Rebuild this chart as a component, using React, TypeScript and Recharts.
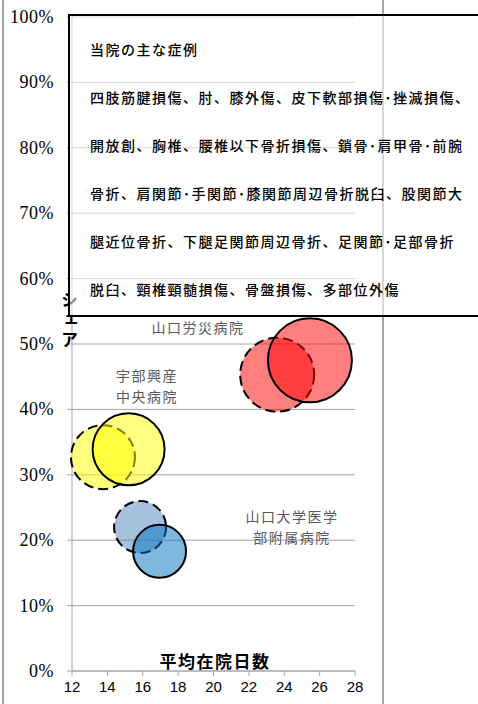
import { ScatterChart, Scatter, XAxis, YAxis, ZAxis, CartesianGrid } from 'recharts'

// 平均在院日数 (x) / シェア (y) / 症例数 (z)
const prevX = [23.6, 13.75, 15.85]
const prevY = [0.453, 0.327, 0.22]
const prevZ = [1369, 1024, 676]
const curX = [25.45, 15.2, 16.95]
const curY = [0.475, 0.339, 0.183]
const curZ = [1764, 1296, 702]
const prevColors = ['#ff0000', '#ffff00', '#4f81bd']
const curColors = ['#ff0000', '#ffff00', '#0070c0']

const xTicks = [12, 14, 16, 18, 20, 22, 24, 26, 28]
const yTicks = [0, 0.1, 0.2, 0.3, 0.4, 0.5, 0.6, 0.7, 0.8, 0.9, 1]

const noteLines = [
  '当院の主な症例',
  '四肢筋腱損傷、肘、膝外傷、皮下軟部損傷･挫滅損傷、',
  '開放創、胸椎、腰椎以下骨折損傷、鎖骨･肩甲骨･前腕',
  '骨折、肩関節･手関節･膝関節周辺骨折脱臼、股関節大',
  '腿近位骨折、下腿足関節周辺骨折、足関節･足部骨折',
  '脱臼、頸椎頸髄損傷、骨盤損傷、多部位外傷',
]

const cjk = '"Noto Sans CJK JP", sans-serif'

const hospitalLabels = [
  { lines: ['山口労災病院'], left: 198, top: 317 },
  { lines: ['宇部興産', '中央病院'], left: 147, top: 365 },
  { lines: ['山口大学医学', '部附属病院'], left: 292, top: 506 },
]

const XTick = (p: any) => (
  <text x={p.x} y={p.y} dy={12} textAnchor="middle" fontSize={15} fill="#000"
    style={{ fontFamily: '"Liberation Sans", Arial, sans-serif' }}>
    {p.payload.value}
  </text>
)

const YTick = (p: any) => (
  <text x={p.x} y={p.y} dy={6} textAnchor="end" fontSize={18} fill="#000" letterSpacing={0.5}
    style={{ fontFamily: '"Liberation Serif", "Times New Roman", serif' }}>
    {`${Math.round(p.payload.value * 100)}%`}
  </text>
)

export default function App() {
  return (
    <div style={{ position: 'absolute', left: 0, top: 0, width: 478, height: 704, overflow: 'hidden', background: '#fff' }}>
      <ScatterChart width={478} height={704} margin={{ top: 17, right: 123, bottom: 0, left: 0 }}>
        <CartesianGrid vertical={false} stroke="#a6a6a6" />
        <XAxis
          type="number" dataKey="x" domain={[12, 28]} ticks={xTicks} height={33}
          axisLine={{ stroke: '#a6a6a6' }} tickLine={{ stroke: '#a6a6a6' }} tickSize={5} tickMargin={4}
          tick={XTick}
        />
        <YAxis
          type="number" dataKey="y" domain={[0, 1]} ticks={yTicks} width={72}
          axisLine={{ stroke: '#a6a6a6' }} tickLine={{ stroke: '#a6a6a6' }} tickSize={5} tickMargin={13}
          tick={YTick}
        />
        <ZAxis type="number" dataKey="z" domain={[0, 1764]} range={[0, Math.PI * 42 * 42]} />
        {prevX.map((x, i) => (
          <Scatter
            key={'p' + i}
            data={[{ x, y: prevY[i], z: prevZ[i] }]}
            shape="circle"
            fill={prevColors[i]} fillOpacity={0.5}
            stroke="#000" strokeWidth={2} strokeDasharray="10 5"
            isAnimationActive={false}
          />
        ))}
        {curX.map((x, i) => (
          <Scatter
            key={'c' + i}
            data={[{ x, y: curY[i], z: curZ[i] }]}
            shape="circle"
            fill={curColors[i]} fillOpacity={0.5}
            stroke="#000" strokeWidth={2}
            isAnimationActive={false}
          />
        ))}
      </ScatterChart>

      {/* chart area border */}
      <div style={{ position: 'absolute', left: 2, top: -5, width: 378, height: 720, borderLeft: '2px solid #a6a6a6', borderRight: '2px solid #a6a6a6' }} />

      {hospitalLabels.map((l, i) => (
        <div key={i} style={{ position: 'absolute', left: l.left - 80, top: l.top, width: 160, textAlign: 'center', fontFamily: cjk, fontSize: 14, letterSpacing: 1.5, lineHeight: '21px', color: '#595959' }}>
          {l.lines.map((t, j) => <div key={j}>{t}</div>)}
        </div>
      ))}

      <div style={{ position: 'absolute', left: 115, top: 650, width: 200, textAlign: 'center', fontFamily: cjk, fontSize: 17, fontWeight: 'bold', letterSpacing: 1.5, lineHeight: '22px', color: '#000' }}>
        平均在院日数
      </div>

      <div style={{ position: 'absolute', left: 57, top: 291, writingMode: 'vertical-rl', fontFamily: cjk, fontSize: 17, fontWeight: 'bold', letterSpacing: 3, color: '#000' }}>
        シェア
      </div>

      <div style={{ position: 'absolute', left: 68, top: 14, width: 430, height: 303, boxSizing: 'border-box', border: '2px solid #000', background: 'rgba(255,255,255,0.55)', padding: '9px 0 0 20px', fontFamily: cjk, fontSize: 14, fontWeight: 500, letterSpacing: 1.5, lineHeight: '48px', color: '#000', whiteSpace: 'nowrap' }}>
        {noteLines.map((t, i) => <div key={i}>{t}</div>)}
      </div>
    </div>
  )
}
